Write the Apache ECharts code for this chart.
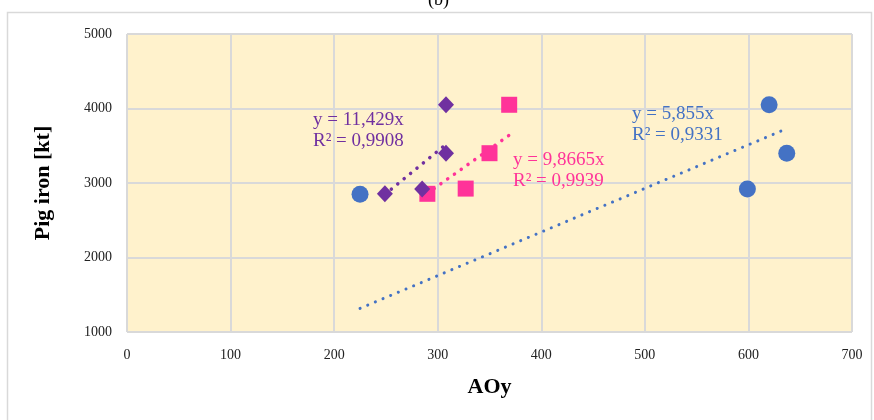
<!DOCTYPE html>
<html>
<head>
<meta charset="utf-8">
<script src="https://cdn.jsdelivr.net/npm/echarts@6/dist/echarts.min.js"></script>
<style>
  html, body { margin: 0; padding: 0; background: #fff; }
  #main { width: 874px; height: 420px; }
</style>
</head>
<body>
<div id="main"></div>
<script>
// data
const blueX = [225, 599, 620, 637]
const blueY = [2850, 2920, 4050, 3400]
const purpleX = [249, 285, 308, 308]
const purpleY = [2855, 2920, 4050, 3400]
const pinkX = [290, 327, 350, 369]
const pinkY = [2855, 2925, 3400, 4050]

// trendline slopes (linear, through origin)
const blueSlope = 5.855
const purpleSlope = 11.429
const pinkSlope = 9.8665

const xTicks = [0, 100, 200, 300, 400, 500, 600, 700]
const yTicks = [1000, 2000, 3000, 4000, 5000]

const BLUE = '#4472C4'
const PURPLE = '#7030A0'
const PINK = '#FF3399'
const FONT = '"Liberation Serif", "DejaVu Serif", serif'

function pts (xs, ys) {
  return xs.map((x, i) => [x, ys[i]])
}

// trend line from smallest to largest x
function trend (xs, slope) {
  const lo = Math.min(...xs)
  const hi = Math.max(...xs)
  return [[lo, lo * slope], [hi, hi * slope]]
}

function trendSeries (xs, slope, color, w) {
  return {
    type: 'line',
    data: trend(xs, slope),
    symbol: 'none',
    silent: true,
    z: 1,
    lineStyle: { color: color, width: w, type: [0.1, 8.2], cap: 'round' }
  }
}

const myChart = echarts.init(document.getElementById('main'))

const option = {
  animation: false,
  backgroundColor: '#fff',
  grid: {
    left: 127,
    right: 22,
    top: 34,
    bottom: 88,
    show: true,
    backgroundColor: '#FFF2CC',
    borderWidth: 0
  },
  xAxis: {
    type: 'value',
    min: xTicks[0],
    max: xTicks[xTicks.length - 1],
    interval: 100,
    name: 'AOy',
    nameLocation: 'middle',
    nameGap: 44,
    nameTextStyle: { fontFamily: FONT, fontWeight: 'bold', fontSize: 22, color: '#000' },
    axisLine: { show: false },
    axisTick: { show: false },
    axisLabel: { fontFamily: FONT, fontSize: 14, color: '#222', margin: 16 },
    splitLine: { show: true, lineStyle: { color: '#D9D9D9', width: 2 } }
  },
  yAxis: {
    type: 'value',
    min: yTicks[0],
    max: yTicks[yTicks.length - 1],
    interval: 1000,
    name: 'Pig iron [kt]',
    nameLocation: 'middle',
    nameGap: 73,
    nameTextStyle: { fontFamily: FONT, fontWeight: 'bold', fontSize: 22, color: '#000' },
    axisLine: { show: false },
    axisTick: { show: false },
    axisLabel: { fontFamily: FONT, fontSize: 14, color: '#222', margin: 15, formatter: v => String(v) },
    splitLine: { show: true, lineStyle: { color: '#D9D9D9', width: 2 } }
  },
  graphic: [
    {
      type: 'rect',
      left: 5, top: 10,
      shape: { width: 864, height: 420 },
      style: { fill: 'none', stroke: '#D9D9D9', lineWidth: 1.5 },
      z: -10
    },
    {
      type: 'text',
      left: 428, top: -9,
      style: { text: '(b)', font: '18px ' + FONT, fill: '#000' }
    },
    {
      type: 'text',
      left: 313, top: 110,
      z: 100,
      style: { text: 'y = 11,429x\nR² = 0,9908', font: '19px ' + FONT, fill: PURPLE, lineHeight: 21 }
    },
    {
      type: 'text',
      left: 513, top: 150,
      z: 100,
      style: { text: 'y = 9,8665x\nR² = 0,9939', font: '19px ' + FONT, fill: PINK, lineHeight: 21 }
    },
    {
      type: 'text',
      left: 632, top: 104,
      z: 100,
      style: { text: 'y = 5,855x\nR² = 0,9331', font: '19px ' + FONT, fill: BLUE, lineHeight: 21 }
    }
  ],
  series: [
    trendSeries(blueX, blueSlope, BLUE, 3),
    trendSeries(purpleX, purpleSlope, PURPLE, 3.5),
    trendSeries(pinkX, pinkSlope, PINK, 3.5),
    {
      type: 'scatter',
      data: pts(blueX, blueY),
      symbol: 'circle',
      symbolSize: 17,
      itemStyle: { color: BLUE, opacity: 1 },
      z: 3
    },
    {
      type: 'scatter',
      data: pts(pinkX, pinkY),
      symbol: 'rect',
      symbolSize: 16,
      itemStyle: { color: PINK, opacity: 1 },
      z: 3
    },
    {
      type: 'scatter',
      data: pts(purpleX, purpleY),
      symbol: 'diamond',
      symbolSize: [16, 17],
      itemStyle: { color: PURPLE, opacity: 1 },
      z: 4
    }
  ]
}

myChart.setOption(option)
</script>
</body>
</html>
